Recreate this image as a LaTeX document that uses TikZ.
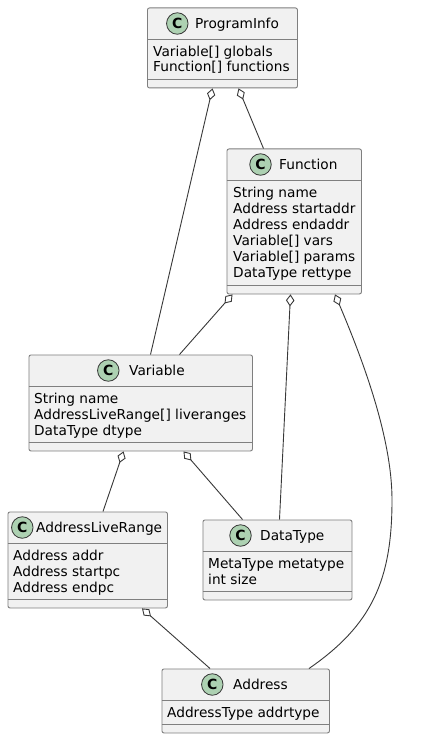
\documentclass[tikz,border=0pt]{standalone}
\usepackage{fontspec}
\setmainfont{DejaVu Sans}
\usetikzlibrary{arrows.meta,calc}
\definecolor{boxfill}{HTML}{F1F1F1}
\definecolor{boxline}{HTML}{7F7F7F}
\definecolor{spotfill}{HTML}{ADD1B2}
\definecolor{edge}{HTML}{383838}
\tikzset{
 x=1pt,y=-1pt,
 classbox/.style={draw=boxline,fill=boxfill,rounded corners=2pt,line width=.9pt,inner sep=0,anchor=north west},
 sep/.style={draw=boxline,line width=.9pt},
 spot/.style={circle,draw=edge,fill=spotfill,line width=.8pt,minimum size=21.5pt,inner sep=0,font=\fontsize{14}{14}\selectfont\bfseries},
 title/.style={anchor=base west,inner sep=0,font=\fontsize{13.7}{14}\selectfont,text=black},
 attr/.style={anchor=base west,inner sep=0,font=\fontsize{13.7}{14}\selectfont,text=black},
 agg/.style={draw=edge,line width=.9pt,{Diamond[open,length=12pt,width=8.5pt,line width=.9pt]}-},
}
\newcommand{\classnode}[7]{% name,x1,y1,x2,y2,header line,attribute line
 \node[classbox,minimum width=#4-#2,minimum height=#5-#3] (#1) at (#2,#3) {};
 \draw[sep] (#2,#6) -- (#4,#6);
 \draw[sep] (#2,#7) -- (#4,#7);
}
\begin{document}
\begin{tikzpicture}
\useasboundingbox (0,0) rectangle (423,738);
\fill[white] (0,0) rectangle (423,738);
\classnode{pi}{147}{7.5}{297}{87.5}{39.5}{79.5}
\node[spot] (piC) at (177.3,23.5) {C};
\node[title] (piT) at (195,28.5) {ProgramInfo};
\node[attr] (pi1) at (153,56.5) {Variable[] globals};
\node[attr] (pi2) at (153,72) {Function[] functions};

\classnode{fn}{226.5}{148.5}{361}{293.5}{180.5}{285.5}
\node[spot] (fnC) at (260.5,164.5) {C};
\node[title] (fnT) at (279,169.5) {Function};
\node[attr] (fn1) at (233,197.5) {String name};
\node[attr] (fn2) at (233,213) {Address startaddr};
\node[attr] (fn3) at (233,229) {Address endaddr};
\node[attr] (fn4) at (233,245) {Variable[] vars};
\node[attr] (fn5) at (233,261) {Variable[] params};
\node[attr] (fn6) at (233,277) {DataType rettype};

\classnode{var}{28.5}{354.5}{252}{450.5}{386.5}{442.5}
\node[spot] (varC) at (108.3,370.5) {C};
\node[title] (varT) at (129,375.5) {Variable};
\node[attr] (var1) at (34,403.5) {String name};
\node[attr] (var2) at (34,419) {AddressLiveRange[] liveranges};
\node[attr] (var3) at (34,435) {DataType dtype};

\classnode{alr}{7.5}{511.5}{167}{607.5}{543.5}{599.5}
\node[spot] (alrC) at (22.3,527.5) {C};
\node[title] (alrT) at (36,532.5) {AddressLiveRange};
\node[attr] (alr1) at (13,560.5) {Address addr};
\node[attr] (alr2) at (13,576) {Address startpc};
\node[attr] (alr3) at (13,592) {Address endpc};

\classnode{dt}{202.5}{519.5}{351.5}{599.5}{551.5}{591.5}
\node[spot] (dtC) at (240.5,535.5) {C};
\node[title] (dtT) at (260,540.5) {DataType};
\node[attr] (dt1) at (208,568.5) {MetaType metatype};
\node[attr] (dt2) at (208,584) {int size};

\classnode{ad}{161.5}{668.5}{329}{732.5}{700.5}{724.5}
\node[spot] (adC) at (212.3,684.5) {C};
\node[title] (adT) at (233,689.5) {Address};
\node[attr] (ad1) at (167,717) {AddressType addrtype};

\path[agg] ($(pi.south west)+(65.5,0)$) -- ($(var.north west)+(122,0)$);
\path[agg] ($(pi.south west)+(91.5,0)$) -- ($(fn.north west)+(37,0)$);
\path[agg] ($(fn.south west)+(6,0)$) -- ($(var.north west)+(151,0)$);
\path[agg] ($(fn.south west)+(64,0)$) -- ($(dt.north west)+(77,0)$);
\path[agg] ($(fn.south west)+(108.5,0)$) .. controls (365,365) and (392,440) .. (392,500) .. controls (392,580) and (372,625) .. ($(ad.north west)+(147.5,0)$);
\path[agg] ($(var.south west)+(95,0)$) -- ($(alr.north west)+(95.5,0)$);
\path[agg] ($(var.south west)+(155,0)$) -- ($(dt.north west)+(40,0)$);
\path[agg] ($(alr.south west)+(134.5,0)$) -- ($(ad.north west)+(48.5,0)$);
\end{tikzpicture}
\end{document}
